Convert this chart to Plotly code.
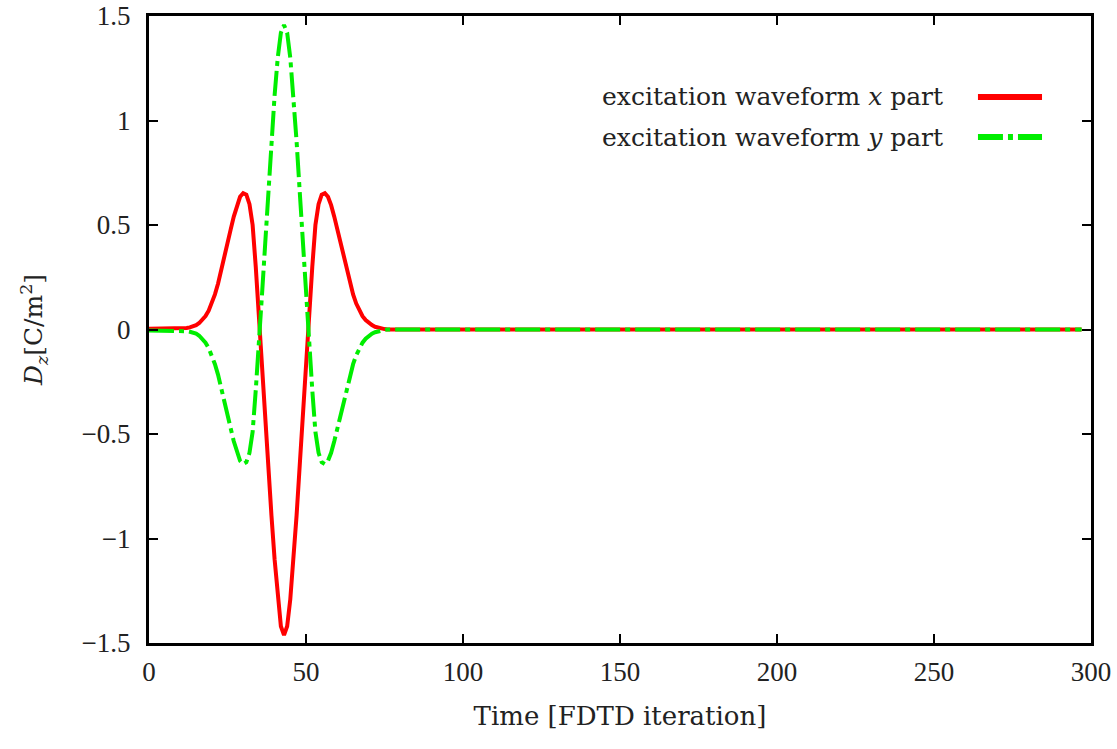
import plotly.graph_objects as go

# FDTD iteration index
t_iter = [0, 10, 11, 12, 13, 14, 15, 16, 17, 18, 19, 20, 21, 22, 23, 24, 25, 26, 27, 28, 29,
          30, 31, 32, 33, 34, 35, 36, 37, 38, 39, 40, 41, 42, 43, 44, 45, 46, 47, 48, 49,
          50, 51, 52, 53, 54, 55, 56, 57, 58, 59, 60, 61, 62, 63, 64, 65, 66, 67, 68, 69,
          70, 71, 72, 73, 74, 75, 76, 297]

# excitation waveform x part
dz_x = [0.004, 0.004, 0.005, 0.007, 0.010, 0.015, 0.021, 0.031, 0.045, 0.064, 0.090,
        0.124, 0.168, 0.220, 0.280, 0.345, 0.410, 0.478, 0.540, 0.595, 0.635,
        0.652, 0.645, 0.600, 0.500, 0.300, 0.050, -0.170, -0.400, -0.650, -0.890,
        -1.100, -1.290, -1.420, -1.462, -1.420, -1.290, -1.100, -0.890, -0.650, -0.400,
        -0.170, 0.050, 0.300, 0.500, 0.600, 0.645, 0.652, 0.635, 0.595, 0.540,
        0.478, 0.410, 0.345, 0.280, 0.220, 0.168, 0.124, 0.090, 0.064, 0.045,
        0.031, 0.021, 0.013, 0.008, 0.005, 0.002, 0.000, 0.000]

# excitation waveform y part
dz_y = [-0.005, -0.005, -0.006, -0.008, -0.011, -0.015, -0.020, -0.030, -0.044, -0.063, -0.089,
        -0.123, -0.166, -0.217, -0.276, -0.340, -0.405, -0.472, -0.535, -0.590, -0.628,
        -0.644, -0.635, -0.590, -0.490, -0.290, -0.020, 0.170, 0.410, 0.660, 0.900,
        1.120, 1.300, 1.420, 1.457, 1.420, 1.300, 1.120, 0.900, 0.660, 0.410,
        0.170, -0.050, -0.290, -0.490, -0.590, -0.635, -0.644, -0.628, -0.590, -0.535,
        -0.472, -0.405, -0.340, -0.276, -0.217, -0.166, -0.123, -0.089, -0.063, -0.044,
        -0.030, -0.020, -0.013, -0.008, -0.005, -0.002, 0.000, 0.000]

x_ticks = [0, 50, 100, 150, 200, 250, 300]
y_ticks = [-1.5, -1, -0.5, 0, 0.5, 1, 1.5]
y_ticktext = ["\u22121.5", "\u22121", "\u22120.5", "0", "0.5", "1", "1.5"]

legend_labels = ["excitation waveform <i>x</i> part", "excitation waveform <i>y</i> part"]

RED = "#ff0000"
GREEN = "#00ee00"
TICK_FONT = "Liberation Serif"
TEXT_FONT = "DejaVu Serif"
INK = "#222222"
GREEN_DASH = "25px,5px,5px,5px"

fig = go.Figure()
fig.add_trace(go.Scatter(x=t_iter, y=dz_x, mode="lines",
                         line=dict(color=RED, width=4), name=legend_labels[0]))
fig.add_trace(go.Scatter(x=t_iter, y=dz_y, mode="lines",
                         line=dict(color=GREEN, width=4, dash=GREEN_DASH), name=legend_labels[1]))

axis_common = dict(
    showgrid=False, zeroline=False, showline=True, linecolor="black", linewidth=3,
    mirror="allticks", ticks="inside", ticklen=9, tickwidth=2, tickcolor="black",
    tickfont=dict(family=TICK_FONT, size=27, color=INK), automargin=False,
)

fig.update_xaxes(range=[0, 300], tickvals=x_ticks, ticktext=[str(v) for v in x_ticks],
                 title=dict(text="Time [FDTD iteration]", font=dict(family=TEXT_FONT, size=26, color=INK),
                            standoff=21),
                 ticklabelstandoff=3, **axis_common)
fig.update_yaxes(range=[-1.5, 1.5], tickvals=y_ticks, ticktext=y_ticktext,
                 title=dict(text="<i>D</i><sub><i>z</i></sub>[C/m<sup>2</sup>]",
                            font=dict(family=TEXT_FONT, size=25, color=INK), standoff=32),
                 ticklabelstandoff=10, **axis_common)

# legend drawn gnuplot style: text right-aligned, sample line on the right
for i, (lab, col, dash) in enumerate([(legend_labels[0], RED, "solid"),
                                       (legend_labels[1], GREEN, GREEN_DASH)]):
    ypos = 0.871 - i * 0.064
    fig.add_annotation(xref="paper", yref="paper", x=0.845, y=ypos, xanchor="right", yanchor="middle",
                       text=lab, showarrow=False, font=dict(family=TEXT_FONT, size=25, color=INK))
    fig.add_shape(type="line", xref="paper", yref="paper", x0=0.880, x1=0.948, y0=ypos, y1=ypos,
                  line=dict(color=col, width=6, dash=dash))

fig.update_layout(
    width=1117, height=749, showlegend=False,
    margin=dict(l=149, r=26, t=16, b=106),
    plot_bgcolor="white", paper_bgcolor="white",
)

fig.write_html("out.html")
